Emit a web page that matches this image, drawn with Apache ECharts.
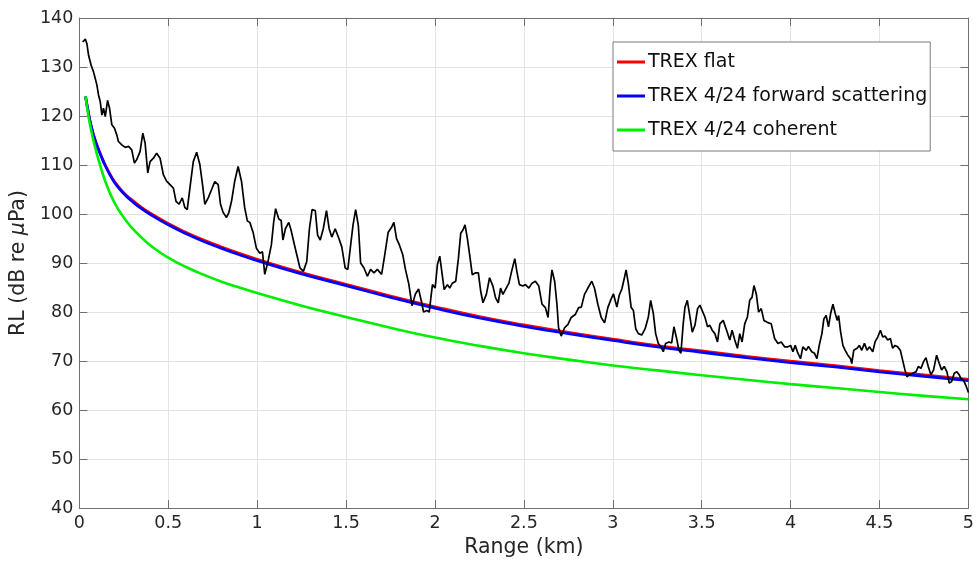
<!DOCTYPE html>
<html>
<head>
<meta charset="utf-8">
<script src="https://cdn.jsdelivr.net/npm/echarts@6/dist/echarts.min.js"></script>
<style>
html,body{margin:0;padding:0;background:#fff;}
#chart{width:977px;height:563px;}
</style>
</head>
<body>
<div id="chart"></div>
<script>
// ---- data ----
const xTicks = [0, 0.5, 1, 1.5, 2, 2.5, 3, 3.5, 4, 4.5, 5];
const yTicks = [40, 50, 60, 70, 80, 90, 100, 110, 120, 130, 140];

const seriesNames = ['TREX flat', 'TREX 4/24 forward scattering', 'TREX 4/24 coherent'];

const modelKm = [0.035, 0.047, 0.06, 0.075, 0.09, 0.107, 0.125, 0.144, 0.165, 0.19, 0.22, 0.26, 0.3, 0.35, 0.4, 0.5, 0.6, 0.7, 0.8, 0.9, 1.0, 1.25, 1.5, 1.75, 2.0, 2.25, 2.5, 2.75, 3.0, 3.25, 3.5, 3.75, 4.0, 4.25, 4.5, 4.75, 5.0];
const flatRL = [124.0, 121.6, 119.1, 116.9, 115.1, 113.4, 111.8, 110.2, 108.7, 107.1, 105.6, 104.0, 102.8, 101.4, 100.2, 98.1, 96.3, 94.7, 93.3, 92.0, 90.8, 88.1, 85.7, 83.3, 81.1, 79.1, 77.4, 75.9, 74.5, 73.2, 72.1, 71.0, 70.0, 69.1, 68.1, 67.2, 66.3];
const forwardRL = [124.0, 121.5, 119.0, 116.7, 114.9, 113.2, 111.6, 110.0, 108.5, 106.9, 105.4, 103.8, 102.5, 101.1, 99.9, 97.8, 96.0, 94.4, 93.0, 91.7, 90.5, 87.8, 85.4, 83.0, 80.8, 78.8, 77.1, 75.6, 74.2, 72.9, 71.8, 70.7, 69.7, 68.8, 67.8, 66.9, 66.0];
const coherentRL = [124.0, 121.0, 118.3, 115.7, 113.5, 111.2, 109.0, 106.9, 104.9, 102.9, 100.9, 98.8, 97.0, 95.2, 93.6, 91.1, 89.2, 87.6, 86.2, 85.0, 83.9, 81.3, 79.0, 76.8, 74.8, 73.1, 71.6, 70.3, 69.1, 68.1, 67.1, 66.2, 65.3, 64.5, 63.7, 62.9, 62.2];

const measuredKm = [
0.019,0.034,0.043,0.052,0.067,0.080,0.090,0.099,0.108,0.118,0.127,0.136,0.146,0.159,0.170,0.183,0.198,0.211,0.220,0.239,
0.258,0.277,0.295,0.310,0.323,0.342,0.357,0.370,0.385,0.398,0.417,0.435,0.454,0.473,0.491,0.510,0.529,0.544,0.561,0.579,
0.594,0.607,0.622,0.641,0.660,0.678,0.693,0.706,0.725,0.744,0.762,0.781,0.794,0.809,0.828,0.841,0.856,0.874,0.893,0.912,
0.930,0.945,
0.959,0.977,0.996,1.015,1.030,1.043,1.061,1.080,1.093,1.104,1.122,1.135,1.145,1.159,1.178,1.191,1.206,1.223,1.241,1.260,
1.279,1.294,1.309,1.327,1.340,1.355,1.372,1.390,1.405,1.420,1.439,1.457,1.476,1.495,1.510,1.526,1.539,1.554,1.569,1.582,
1.601,1.620,1.638,1.657,1.676,1.700,1.718,1.737,1.756,1.769,1.784,1.800,1.819,1.834,1.853,1.871,1.890,1.908,1.923,1.936,
1.955,1.968,
1.977,1.986,2.001,2.014,2.027,2.038,2.052,2.070,2.083,2.098,2.117,2.132,2.145,2.158,2.169,2.182,2.195,2.210,2.229,2.244,
2.257,2.270,2.289,2.307,2.326,2.341,2.356,2.369,2.382,2.401,2.416,2.431,2.449,2.462,2.475,2.494,2.509,2.528,2.546,2.565,
2.584,2.602,2.621,2.636,2.649,2.658,2.673,2.686,2.695,2.710,2.729,2.748,2.766,2.789,2.808,2.823,2.841,2.860,2.882,2.897,
2.916,2.935,2.954,2.972,
2.991,3.004,3.023,3.036,3.051,3.066,3.075,3.088,3.103,3.116,3.129,3.144,3.163,3.182,3.200,3.213,3.228,3.241,3.256,3.271,
3.284,3.297,3.316,3.331,3.344,3.359,3.372,3.383,3.396,3.406,3.419,3.434,3.447,3.462,3.477,3.490,3.503,3.518,3.533,3.546,
3.559,3.574,3.589,3.602,3.621,3.640,3.658,3.671,3.686,3.701,3.714,3.727,3.742,3.757,3.770,3.783,3.794,3.807,3.820,3.835,
3.850,3.869,3.891,3.910,3.929,3.947,3.966,
3.985,4.000,4.013,4.026,4.041,4.056,4.069,4.088,4.100,4.119,4.134,4.148,4.161,4.176,4.187,4.200,4.213,4.225,4.238,4.251,
4.262,4.270,4.281,4.294,4.307,4.322,4.337,4.344,4.355,4.374,4.387,4.400,4.415,4.430,4.443,4.462,4.475,4.490,4.505,4.518,
4.531,4.546,4.561,4.574,4.587,4.602,4.617,4.630,4.643,4.654,4.667,4.686,4.705,4.718,4.733,4.748,4.761,4.774,4.789,4.804,
4.821,4.836,4.849,4.864,4.879,4.892,4.905,4.920,4.935,4.948,4.957,4.972,4.986,5.000
];
const measuredRL = [
135.1,135.7,134.7,132.4,130.3,129.0,127.6,126.3,124.3,122.9,120.2,121.6,119.9,123.2,121.6,118.2,117.5,116.1,114.8,114.1,
113.6,113.8,113.1,110.4,111.1,112.8,116.5,114.5,108.4,110.7,111.4,112.4,111.4,108.0,106.7,106.0,105.3,102.6,102.0,103.3,
101.3,100.9,105.3,110.7,112.6,110.1,106.0,102.0,103.3,105.0,106.6,106.0,102.0,100.3,99.3,100.3,102.6,106.7,109.7,106.7,
101.3,98.6,
98.3,96.3,93.0,92.0,92.3,87.7,90.3,93.7,98.3,101.1,99.0,98.7,94.7,97.0,98.3,96.7,94.3,91.7,89.0,88.3,
90.3,97.0,100.9,100.7,95.7,94.7,97.0,100.7,97.0,95.3,97.0,95.3,93.3,89.0,88.7,93.7,97.7,100.9,97.7,90.0,
89.0,87.3,88.7,88.0,88.7,87.7,91.7,96.3,97.3,98.3,95.0,93.7,91.7,88.7,85.7,81.3,83.7,84.7,82.3,80.0,
80.3,80.0,
82.9,85.6,84.9,89.7,91.4,91.0,84.6,85.6,84.9,85.9,86.3,91.0,96.1,96.8,97.8,95.1,91.7,87.6,88.0,88.0,
84.3,81.9,83.6,87.0,85.3,82.9,81.9,84.9,83.6,84.9,85.9,88.3,90.9,88.0,85.6,85.3,85.6,84.9,85.9,86.3,
85.3,81.6,80.9,78.9,85.6,88.6,86.3,81.6,76.8,75.1,76.8,77.5,78.9,79.5,80.9,81.0,83.6,84.9,86.3,84.9,
81.6,78.9,77.8,80.9,
82.7,83.7,81.0,83.4,84.7,87.1,88.6,85.7,81.0,80.3,76.6,75.6,75.3,76.6,79.0,82.4,79.7,75.6,73.6,72.9,
71.9,73.6,73.9,73.7,77.0,74.6,72.2,71.6,77.6,81.0,82.4,79.0,75.9,77.3,80.7,81.4,80.3,79.0,77.0,77.3,
76.3,75.6,73.9,77.6,78.3,76.3,74.3,76.3,74.3,72.6,75.6,73.9,77.6,79.0,82.4,83.0,85.4,83.7,80.0,80.7,
78.3,77.9,77.6,74.6,73.6,73.9,72.9,
72.9,73.2,71.9,73.2,71.6,70.5,72.9,72.2,73.0,71.9,71.6,70.5,73.2,75.6,78.6,79.3,77.0,79.7,81.6,79.7,
78.3,79.3,76.0,73.2,72.2,71.2,70.5,69.5,72.2,72.6,73.2,72.2,73.6,72.2,72.9,71.9,73.9,74.9,76.3,74.9,
75.1,74.3,74.6,72.6,73.2,72.9,72.2,70.2,68.2,66.8,67.2,67.5,67.8,68.9,68.5,69.9,70.7,68.9,67.2,68.2,
71.2,69.5,68.2,68.9,67.8,65.5,65.8,67.5,67.8,67.2,66.5,66.1,65.0,63.6
];

// ---- build chart ----
const FONT = 'DejaVu Sans';
const zip = (xs, ys) => xs.map((x, i) => [x, ys[i]]);

const chart = echarts.init(document.getElementById('chart'), null, {renderer: 'canvas'});

const axisLineColor = '#6f6f6f';
const textColor = '#262626';

const option = {
  backgroundColor: '#ffffff',
  animation: false,
  grid: {left: 79, right: 6, top: 18, bottom: 51.5, containLabel: false},
  legend: {
    data: seriesNames,
    orient: 'vertical',
    left: 613,
    top: 42,
    padding: [9, 3, 10, 4],
    itemGap: 12,
    itemWidth: 28,
    itemHeight: 3,
    icon: 'rect',
    backgroundColor: '#ffffff',
    borderColor: '#7a7a7a',
    borderWidth: 1,
    borderRadius: 0,
    selectedMode: false,
    textStyle: {fontFamily: FONT, fontSize: 19, color: '#111', lineHeight: 22, padding: [0, 0, 0, -2]}
  },
  xAxis: [{
    type: 'value', min: xTicks[0], max: xTicks[xTicks.length - 1], interval: 0.5,
    name: 'Range (km)', nameLocation: 'middle', nameGap: 28,
    nameTextStyle: {fontFamily: FONT, fontSize: 20.5, color: textColor},
    axisLine: {show: true, lineStyle: {color: axisLineColor, width: 1}},
    axisTick: {show: true, inside: true, length: 8, lineStyle: {color: axisLineColor}},
    axisLabel: {fontFamily: FONT, fontSize: 17.5, color: textColor, margin: 6},
    splitLine: {show: true, lineStyle: {color: '#e3e3e3', width: 1}}
  }, {
    type: 'value', position: 'top', min: xTicks[0], max: xTicks[xTicks.length - 1], interval: 0.5,
    axisLine: {show: true, onZero: false, lineStyle: {color: axisLineColor, width: 1}},
    axisTick: {show: true, inside: true, length: 8, lineStyle: {color: axisLineColor}},
    axisLabel: {show: false}, splitLine: {show: false}
  }],
  yAxis: [{
    type: 'value', min: yTicks[0], max: yTicks[yTicks.length - 1], interval: 10,
    name: 'RL (dB re {i|μ}Pa)', nameLocation: 'middle', nameGap: 45, nameRotate: 90,
    nameTextStyle: {fontFamily: FONT, fontSize: 20.5, color: textColor,
      rich: {i: {fontFamily: FONT, fontSize: 20.5, fontStyle: 'italic', color: textColor}}},
    axisLine: {show: true, lineStyle: {color: axisLineColor, width: 1}},
    axisTick: {show: true, inside: true, length: 8, lineStyle: {color: axisLineColor}},
    axisLabel: {fontFamily: FONT, fontSize: 17.5, color: textColor, margin: 6},
    splitLine: {show: true, lineStyle: {color: '#e3e3e3', width: 1}}
  }, {
    type: 'value', position: 'right', min: yTicks[0], max: yTicks[yTicks.length - 1], interval: 10,
    axisLine: {show: true, onZero: false, lineStyle: {color: axisLineColor, width: 1}},
    axisTick: {show: true, inside: true, length: 8, lineStyle: {color: axisLineColor}},
    axisLabel: {show: false}, splitLine: {show: false}
  }],
  series: [
    {name: seriesNames[0], type: 'line', data: zip(modelKm, flatRL), showSymbol: false, symbol: 'none',
     smooth: 0.5, color: '#ff0000', lineStyle: {width: 2.5, color: '#ff0000'}},
    {name: seriesNames[1], type: 'line', data: zip(modelKm, forwardRL), showSymbol: false, symbol: 'none',
     smooth: 0.5, color: '#0000ff', lineStyle: {width: 2.8, color: '#0000ff'}},
    {name: seriesNames[2], type: 'line', data: zip(modelKm, coherentRL), showSymbol: false, symbol: 'none',
     smooth: 0.5, color: '#00ee00', lineStyle: {width: 2.6, color: '#00ee00'}},
    {name: 'measured', type: 'line', data: zip(measuredKm, measuredRL), showSymbol: false, symbol: 'none',
     sampling: 'none', color: '#000000', lineStyle: {width: 1.7, color: '#000000'}}
  ]
};
chart.setOption(option);
</script>
</body>
</html>
